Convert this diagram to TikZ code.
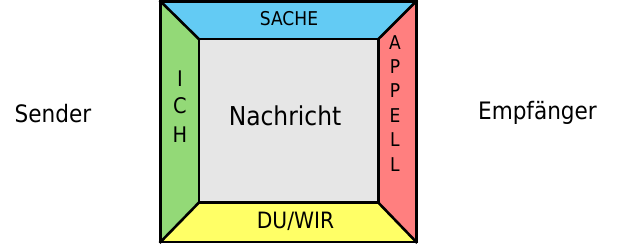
\documentclass[tikz,border=0pt]{standalone}
\usepackage{fontspec}
\setmainfont{DejaVu Sans Condensed}
\definecolor{sachec}{RGB}{99,203,244}
\definecolor{ichc}{RGB}{147,217,119}
\definecolor{appellc}{RGB}{255,127,127}
\definecolor{duc}{RGB}{255,255,102}
\definecolor{msgc}{RGB}{230,230,230}
\begin{document}
\begin{tikzpicture}[x=1pt,y=-1pt,
  edge/.style={line width=2.6pt, line join=miter, line cap=rect},
  lbl/.style={inner sep=0pt, anchor=base},
  big/.style={lbl, font=\fontsize{24}{27}\selectfont},
  msg/.style={lbl, font=\fontsize{26}{29}\selectfont},
  side/.style={lbl, font=\fontsize{21.5}{24}\selectfont},
  sidesmall/.style={lbl, font=\fontsize{19}{22}\selectfont}]
\useasboundingbox (0,0) rectangle (638,248);
\coordinate (O1) at (160.5,1.3);
\coordinate (O2) at (416.3,1.3);
\coordinate (O3) at (416.3,242);
\coordinate (O4) at (160.5,242);
\coordinate (I1) at (199,39.2);
\coordinate (I2) at (378.2,39.2);
\coordinate (I3) at (378.2,202.5);
\coordinate (I4) at (199,202.5);
\fill[sachec] (O1) -- (O2) -- (I2) -- (I1) -- cycle;
\fill[appellc] (O2) -- (O3) -- (I3) -- (I2) -- cycle;
\fill[duc] (O3) -- (O4) -- (I4) -- (I3) -- cycle;
\fill[ichc] (O4) -- (O1) -- (I1) -- (I4) -- cycle;
\fill[msgc] (I1) rectangle (I3);
\draw[edge] (O1) -- (I1) (O2) -- (I2) (O3) -- (I3) (O4) -- (I4);
\draw[edge] (I1) rectangle (I3);
\draw[edge] (O1) rectangle (O3);
\node[big] (sender) at (53,122.5) {Sender};
\node[big] (empf) at (537.5,120) {Empfänger};
\node[msg] (nachricht) at (285,126) {Nachricht};
\node[lbl, font=\fontsize{19}{22}\selectfont] (sache) at (289,26) {SACHE};
\node[lbl, font=\fontsize{22.5}{25}\selectfont] (du) at (295.5,228.3) {DU/WIR};
\node[side] (ich1) at (180,87) {I};
\node[side] (ich2) at (180,113.5) {C};
\node[side] (ich3) at (180,142.5) {H};
\node[sidesmall] (ap1) at (395,49.2) {A};
\node[sidesmall] (ap2) at (395,73.5) {P};
\node[sidesmall] (ap3) at (395,97.5) {P};
\node[sidesmall] (ap4) at (395,122.5) {E};
\node[sidesmall] (ap5) at (395,147) {L};
\node[sidesmall] (ap6) at (395,171.5) {L};
\end{tikzpicture}
\end{document}
